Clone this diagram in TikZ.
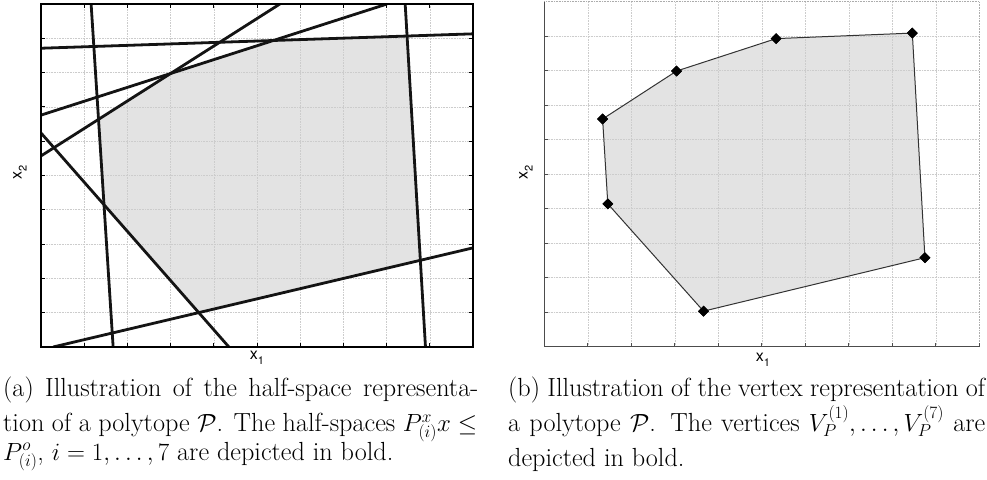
\documentclass[tikz,border=0pt]{standalone}
\usepackage{fontspec}
\newfontfamily\axfont{TeX Gyre Heros}
\usetikzlibrary{shapes.geometric}
\tikzset{
  gridline/.style={densely dotted, gray!65, line width=0.6pt},
  framebox/.style={line width=1.5pt, black},
  halfspace/.style={line width=2.8pt, black!92},
  polyfill/.style={fill=gray!22, draw=none},
  polyedge/.style={line width=1pt, black!80},
  vertexmark/.style={diamond, fill=black, inner sep=0pt, minimum size=11pt},
  tickmark/.style={line width=0.8pt},
  axlabel/.style={inner sep=0pt, font=\axfont\fontsize{16}{16}\selectfont},
  capline/.style={anchor=base west, inner sep=0pt, font=\fontsize{26.2}{30}\selectfont}
}
\newcommand{\subone}[1]{\raisebox{-5pt}{\fontsize{11}{11}\selectfont #1}}
\begin{document}
\begin{tikzpicture}
\useasboundingbox (0pt,0pt) rectangle (987pt,479pt);

% ---------- left panel ----------
\begin{scope}[shift={(41pt,132pt)}, x=43.2pt, y=34.3pt]
  \foreach \i in {1,...,9} {
    \draw[gridline] (\i,0) -- (\i,10);
    \draw[gridline] (0,\i) -- (10,\i);
  }
  \coordinate (L1a) at (1.16,10);  \coordinate (L1b) at (1.67,0);
  \coordinate (L2a) at (0,8.71);   \coordinate (L2b) at (10,9.13);
  \coordinate (L3a) at (0,5.57);   \coordinate (L3b) at (5.53,10);
  \coordinate (L4a) at (0,6.76);   \coordinate (L4b) at (8.01,10);
  \coordinate (L5a) at (8.43,10);  \coordinate (L5b) at (8.90,0);
  \coordinate (L6a) at (0.28,0);   \coordinate (L6b) at (10,2.89);
  \coordinate (L7a) at (0,6.24);   \coordinate (L7b) at (4.35,0);
  \coordinate (P1) at (intersection of L1a--L1b and L3a--L3b);
  \coordinate (P2) at (intersection of L1a--L1b and L7a--L7b);
  \coordinate (P3) at (intersection of L7a--L7b and L6a--L6b);
  \coordinate (P4) at (intersection of L6a--L6b and L5a--L5b);
  \coordinate (P5) at (intersection of L5a--L5b and L2a--L2b);
  \coordinate (P6) at (intersection of L2a--L2b and L4a--L4b);
  \coordinate (P7) at (intersection of L4a--L4b and L3a--L3b);
  \fill[polyfill] (P1) -- (P2) -- (P3) -- (P4) -- (P5) -- (P6) -- (P7) -- cycle;
  \foreach \i in {1,...,9} {
    \draw[gridline, gray!40] (\i,0) -- (\i,10);
    \draw[gridline, gray!40] (0,\i) -- (10,\i);
    \draw[tickmark] (\i,0) -- ++(0,4pt);
    \draw[tickmark] (\i,10) -- ++(0,-4pt);
    \draw[tickmark] (0,\i) -- ++(4pt,0);
    \draw[tickmark] (10,\i) -- ++(-4pt,0);
  }
  \begin{scope}
    \clip (0,0) rectangle (10,10);
    \foreach \k in {1,...,7} {
      \draw[halfspace] (L\k a) -- (L\k b);
    }
  \end{scope}
  \draw[framebox] (0,0) rectangle (10,10);
\end{scope}
\node[axlabel] (xa1) at (257pt,121pt) {x\subone{1}};
\node[axlabel, rotate=90] (xa2) at (20pt,307pt) {x\subone{2}};

% ---------- right panel ----------
\begin{scope}[shift={(544.3pt,132.3pt)}, x=43.5pt, y=34.5pt]
  \foreach \i in {1,...,10} {
    \draw[gridline] (\i,0) -- (\i,10);
    \draw[gridline] (0,\i) -- (10,\i);
  }
  \coordinate (V1) at (1.34,6.60);
  \coordinate (V2) at (1.46,4.14);
  \coordinate (V3) at (3.66,1.03);
  \coordinate (V4) at (8.75,2.58);
  \coordinate (V5) at (8.46,9.09);
  \coordinate (V6) at (5.33,8.93);
  \coordinate (V7) at (3.04,7.99);
  \fill[polyfill] (V1) -- (V2) -- (V3) -- (V4) -- (V5) -- (V6) -- (V7) -- cycle;
  \foreach \i in {1,...,9} {
    \draw[gridline, gray!40] (\i,0) -- (\i,10);
    \draw[gridline, gray!40] (0,\i) -- (10,\i);
    \draw[tickmark, black!70] (\i,0) -- ++(0,4pt);
    \draw[tickmark, black!70] (0,\i) -- ++(4pt,0);
  }
  \draw[tickmark, black!70] (10,0) -- ++(0,4pt);
  \draw[line width=1pt, black!70] (0,10) -- (0,0) -- (10,0);
  \foreach \k in {1,...,7} {
    \node[vertexmark] (D\k) at (V\k) {};
  }
  \draw[polyedge] (D1.center) -- (D2.center) -- (D3.center) -- (D4.center) -- (D5.center) -- (D6.center) -- (D7.center) -- (D1.center);
  \foreach \k in {1,...,7} {
    \node[vertexmark] at (V\k) {};
  }
\end{scope}
\node[axlabel] (xb1) at (763pt,119pt) {x\subone{1}};
\node[axlabel, rotate=90] (xb2) at (526pt,307pt) {x\subone{2}};

% ---------- captions ----------
\node[capline] (ca1) at (3pt,82.3pt) {\makebox[475pt][s]{(a) Illustration of the half-space representa-}};
\node[capline] (ca2) at (3pt,47.3pt) {\makebox[474pt][s]{tion of a polytope $\mathcal{P}$. The half-spaces $P^x_{(i)}x \le$}};
\node[capline] (ca3) at (3pt,19pt) {$P^o_{(i)}$, $i=1,\ldots,7$ are depicted in bold.};
\node[capline] (cb1) at (508pt,82.3pt) {\makebox[477pt][s]{(b) Illustration of the vertex representation of}};
\node[capline] (cb2) at (508pt,47.3pt) {\makebox[477pt][s]{a polytope $\mathcal{P}$. The vertices $V_P^{(1)},\ldots,V_P^{(7)}$ are}};
\node[capline] (cb3) at (508pt,13pt) {depicted in bold.};
\end{tikzpicture}
\end{document}
